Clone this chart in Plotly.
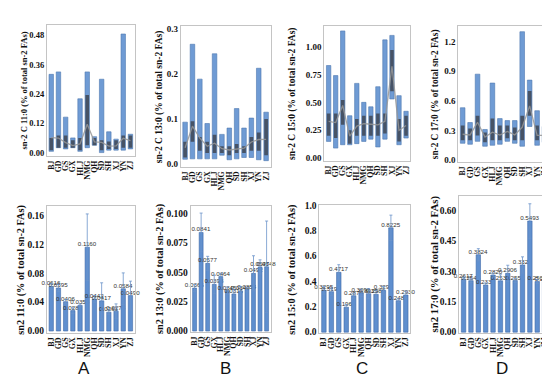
import plotly.graph_objects as go

cats = ["BJ", "GD", "GS", "GX", "HLJ", "NMG", "QH", "SD", "SH", "XJ", "YN", "ZJ"]

# ---- top row: range (min/max), dense core (lo/hi) ----
a_min = [0.005, 0.02, 0.015, 0.02, 0.005, 0.02, 0.03, 0.0, 0.01, 0.01, 0.01, 0.015]
a_max = [0.32, 0.33, 0.145, 0.06, 0.22, 0.33, 0.065, 0.30, 0.085, 0.055, 0.485, 0.075]
a_lo = [0.01, 0.02, 0.02, 0.02, 0.01, 0.03, 0.03, 0.01, 0.015, 0.015, 0.02, 0.02]
a_hi = [0.06, 0.07, 0.07, 0.05, 0.06, 0.235, 0.06, 0.05, 0.045, 0.05, 0.07, 0.07]

b_min = [0.011, 0.012, 0.012, 0.012, 0.012, 0.02, 0.01, 0.012, 0.015, 0.015, 0.01, 0.008]
b_max = [0.093, 0.265, 0.188, 0.09, 0.244, 0.066, 0.08, 0.123, 0.08, 0.102, 0.212, 0.115]
b_lo = [0.015, 0.05, 0.03, 0.025, 0.025, 0.025, 0.02, 0.025, 0.025, 0.03, 0.03, 0.02]
b_hi = [0.05, 0.095, 0.06, 0.05, 0.065, 0.04, 0.04, 0.045, 0.04, 0.06, 0.07, 0.10]

c_min = [0.15, 0.09, 0.12, 0.12, 0.13, 0.15, 0.17, 0.10, 0.17, 0.53, 0.12, 0.18]
c_max = [0.83, 0.74, 1.14, 0.38, 0.67, 0.50, 0.46, 0.64, 1.06, 1.10, 0.56, 0.42]
c_lo = [0.20, 0.18, 0.30, 0.13, 0.20, 0.20, 0.20, 0.20, 0.22, 0.60, 0.15, 0.20]
c_hi = [0.40, 0.40, 0.52, 0.25, 0.35, 0.38, 0.38, 0.40, 0.40, 0.97, 0.35, 0.38]

d_min = [0.17, 0.16, 0.19, 0.14, 0.15, 0.16, 0.19, 0.17, 0.14, 0.34, 0.15, 0.18]
d_max = [0.53, 0.38, 0.87, 0.31, 0.78, 0.42, 0.40, 0.40, 1.30, 0.81, 0.50, 0.34]
d_lo = [0.20, 0.20, 0.25, 0.18, 0.20, 0.20, 0.22, 0.20, 0.20, 0.45, 0.20, 0.20]
d_hi = [0.35, 0.32, 0.45, 0.28, 0.42, 0.35, 0.35, 0.33, 0.45, 0.70, 0.35, 0.30]

# ---- bottom row: means and errors ----
a_mean = [0.0616, 0.0595, 0.0406, 0.0282, 0.0354, 0.1160, 0.0442, 0.0417, 0.0261, 0.0275, 0.0584, 0.0490]
a_err = [0.004, 0.005, 0.003, 0.004, 0.002, 0.046, 0.005, 0.025, 0.003, 0.010, 0.022, 0.020]
b_mean = [0.0366, 0.0841, 0.0577, 0.0398, 0.0464, 0.0345, 0.0316, 0.0340, 0.0354, 0.0492, 0.0547, 0.0548]
b_err = [0.003, 0.0165, 0.006, 0.008, 0.003, 0.003, 0.004, 0.004, 0.002, 0.015, 0.006, 0.039]
c_mean = [0.3295, 0.3192, 0.4717, 0.1968, 0.2872, 0.3091, 0.3035, 0.2986, 0.3297, 0.8225, 0.2483, 0.2930]
c_err = [0.03, 0.03, 0.06, 0.02, 0.02, 0.03, 0.04, 0.03, 0.03, 0.10, 0.015, 0.03]
d_mean = [0.2617, 0.2546, 0.3824, 0.2332, 0.2820, 0.2536, 0.2906, 0.2551, 0.3321, 0.5493, 0.2503, 0.2502]
d_err = [0.01, 0.01, 0.03, 0.01, 0.01, 0.03, 0.04, 0.01, 0.04, 0.085, 0.01, 0.05]

top_titles = ["sn-2 C 11:0 (% of total sn-2 FAs)", "sn-2 C 13:0 (% of total sn-2 FAs)",
              "sn-2 C 15:0 (% of total sn-2 FAs)", "sn-2 C 17:0 (% of total sn-2 FAs)"]
bot_titles = ["sn2 11:0 (% of total sn-2 FAs)", "sn2 13:0 (% of total sn-2 FAs)",
              "sn2 15:0 (% of total sn-2 FAs)", "sn2 17:0 (% of total sn-2 FAs)"]
letters = ["A", "B", "C", "D"]

W, H = 550, 377
SERIF = "Liberation Serif, Times New Roman, serif"

top_spec = [
    dict(px=(39, 127, 12, 147), rng=[-0.016, 0.523], dt=0.12, fmt=".2f", tfs=8.5, tx=16, tick=8.5),
    dict(px=(173, 263, 13, 158), rng=[-0.0065, 0.306], dt=0.1, fmt=".1f", tfs=9.5, tx=152, tick=9),
    dict(px=(317, 403, 13, 152), rng=[-0.029, 1.187], dt=0.25, fmt=".2f", tfs=9.5, tx=285, tick=9),
    dict(px=(451, 542, 13, 153), rng=[-0.023, 1.361], dt=0.3, fmt=".1f", tfs=9.3, tx=428, tick=9),
]
bot_spec = [
    dict(px=(39, 127, 198, 328), rng=[-0.003, 0.1726], dt=0.04, fmt=".2f", tfs=10.3, tx=13, tick=9.5),
    dict(px=(183, 263, 198, 327), rng=[-0.001, 0.1064], dt=0.025, fmt=".3f", tfs=10.3, tx=153, tick=9.5),
    dict(px=(312, 403, 197, 328), rng=[-0.008, 1.0], dt=0.2, fmt=".1f", tfs=10.3, tx=285, tick=9.5),
    dict(px=(452, 542, 187, 328), rng=[-0.005, 0.675], dt=0.15, fmt=".2f", tfs=10.8, tx=427, tick=9.5),
]

tops = [(a_min, a_max, a_lo, a_hi, a_mean), (b_min, b_max, b_lo, b_hi, b_mean),
        (c_min, c_max, c_lo, c_hi, c_mean), (d_min, d_max, d_lo, d_hi, d_mean)]
bots = [(a_mean, a_err), (b_mean, b_err), (c_mean, c_err), (d_mean, d_err)]

fig = go.Figure()
layout = {}
annotations = []

def add_axes(idx, spec, title, xfs):
    x0, x1, yt, yb = spec["px"]
    sx = "" if idx == 1 else str(idx)
    layout["xaxis" + sx] = dict(
        domain=[x0 / W, x1 / W], anchor="y" + sx, type="category",
        categoryorder="array", categoryarray=cats, range=[-0.6, 11.6],
        tickmode="array", tickvals=cats, ticktext=cats,
        tickangle=-90, tickfont=dict(family=SERIF, size=xfs, color="#111", weight="bold"),
        showline=True, mirror=True, linecolor="#c4c4c4", linewidth=1,
        showgrid=False, ticks="", zeroline=False, fixedrange=True)
    top = spec["rng"][1]
    vals = []
    v = 0.0
    while v <= top + 1e-9:
        vals.append(round(v, 6))
        v += spec["dt"]
    layout["yaxis" + sx] = dict(
        domain=[1 - yb / H, 1 - yt / H], anchor="x" + sx, range=spec["rng"],
        tickvals=vals, tickformat=spec["fmt"],
        tickfont=dict(family=SERIF, size=spec["tick"], color="#111", weight="bold"),
        showline=True, mirror=True, linecolor="#c4c4c4", linewidth=1,
        showgrid=False, ticks="", zeroline=False, fixedrange=True)
    annotations.append(dict(
        text=title, x=spec["tx"] / W, y=1 - ((yt + yb) / 2) / H, xref="paper", yref="paper",
        textangle=-90, showarrow=False, xanchor="center", yanchor="middle",
        font=dict(family=SERIF, size=spec["tfs"], color="#111", weight="bold")))
    return "x" + sx, "y" + sx

for i, (spec, data) in enumerate(zip(top_spec, tops)):
    xa, ya = add_axes(i + 1, spec, top_titles[i], 7.8)
    mn, mx, lo, hi, mean = data
    fig.add_trace(go.Bar(x=cats, y=[b - a for a, b in zip(mn, mx)], base=mn, width=0.62,
                         marker=dict(color="#6f9bd4", line=dict(color="#4f78b0", width=0.6)),
                         xaxis=xa, yaxis=ya, showlegend=False))
    fig.add_trace(go.Bar(x=cats, y=[b - a for a, b in zip(lo, hi)], base=lo, width=0.5,
                         marker=dict(color="rgba(55,55,60,0.72)", line=dict(width=0)),
                         xaxis=xa, yaxis=ya, showlegend=False))
    fig.add_trace(go.Scatter(x=cats, y=mean, mode="lines",
                             line=dict(color="rgba(150,150,150,0.85)", width=1.3),
                             xaxis=xa, yaxis=ya, showlegend=False))

for i, (spec, data) in enumerate(zip(bot_spec, bots)):
    xa, ya = add_axes(i + 5, spec, bot_titles[i], 8.0)
    mean, err = data
    fig.add_trace(go.Bar(x=cats, y=mean, width=0.6,
                         marker=dict(color="#5f8fcf", line=dict(color="#3f6aa8", width=0.6)),
                         error_y=dict(type="data", array=err, color="#6b93c9", thickness=0.8, width=1.5),
                         text=[f"{v:.4f}" for v in mean], textposition="outside",
                         textfont=dict(family="Liberation Sans, Arial, sans-serif", size=6.2, color="#333"),
                         constraintext="none", cliponaxis=False,
                         xaxis=xa, yaxis=ya, showlegend=False))

letter_x = [76, 218, 355, 495]
for lx, t in zip(letter_x, letters):
    annotations.append(dict(text=t, x=lx / W, y=1 - 364 / H, xref="paper", yref="paper",
                            showarrow=False, xanchor="center", yanchor="middle",
                            font=dict(family="Liberation Sans, Arial, sans-serif", size=17, color="#111")))

fig.update_layout(**layout)
fig.update_layout(annotations=annotations, width=W, height=H,
                  margin=dict(l=0, r=0, t=0, b=0), barmode="overlay", bargap=0.3,
                  paper_bgcolor="white", plot_bgcolor="white", showlegend=False)
fig.write_html("out.html", config={"displayModeBar": False})
